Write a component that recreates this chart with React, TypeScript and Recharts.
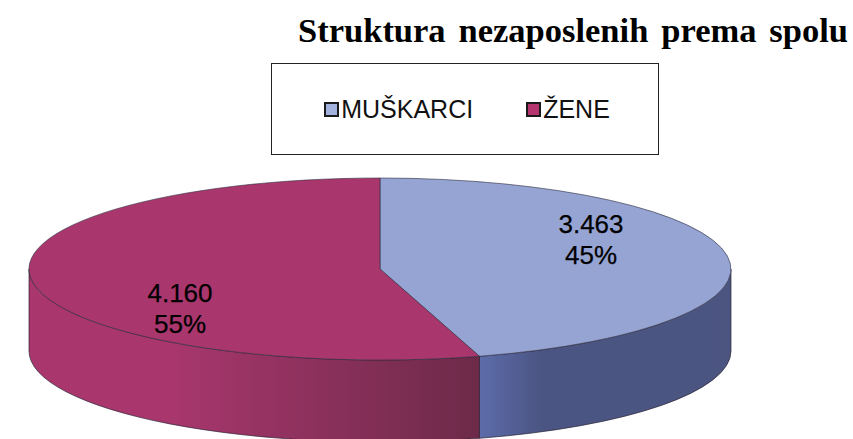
import React from 'react';
import { PieChart, Pie, Cell, Legend } from 'recharts';

const categories = ['MUŠKARCI', 'ŽENE'];
const counts = [3463, 4160];
const TOP_COLORS = ['#96a4d3', '#a9376e'];
const LEGEND_COLORS = ['#a3b2dc', '#b5356f'];

const CX = 380;
const CY = 269;
const RX = 351;
const RY = 91;
const DEPTH = 82;
const RAD = Math.PI / 180;

// label offsets from the centre of the pie, same order as the slices
const LABEL_POS = [{ dx: 211, dy: -28 }, { dx: -200, dy: 41 }];

const chartData = categories.map((name, i) => ({ name, value: counts[i] }));

const pt = (a: number, dy = 0) => `${CX + RX * Math.cos(a * RAD)} ${CY + dy - RY * Math.sin(a * RAD)}`;

// squashed sector with its side wall, recharts gives us the angles
function Slice3D(props: any) {
    const { startAngle, endAngle, index, fill } = props;
    const large = Math.abs(startAngle - endAngle) > 180 ? 1 : 0;
    const wallFrom = Math.min(startAngle, 0);
    const wallTo = Math.max(endAngle, -180);
    const top = `M ${CX} ${CY} L ${pt(startAngle)} A ${RX} ${RY} 0 ${large} 1 ${pt(endAngle)} Z`;
    const wall = `M ${pt(wallFrom)} A ${RX} ${RY} 0 0 1 ${pt(wallTo)} L ${pt(wallTo, DEPTH)} A ${RX} ${RY} 0 0 0 ${pt(wallFrom, DEPTH)} Z`;
    return (
        <g>
            {wallFrom > wallTo && <path d={wall} fill={`url(#wall-${index})`} stroke="#2b2436" strokeWidth={0.7} />}
            <path d={top} fill={fill} stroke="#2b2b3c" strokeWidth={0.6} />
        </g>
    );
}

function renderLabel(props: any) {
    const { index, value, percent } = props;
    const x = CX + LABEL_POS[index].dx;
    const y = CY + LABEL_POS[index].dy;
    const txt = String(value).replace(/(\d)(\d{3})$/, '$1.$2');
    return (
        <text x={x} textAnchor="middle" fontFamily="Liberation Sans" fontSize={26} fill="#000" stroke="#000" strokeWidth={0.25}>
            <tspan x={x} y={y - 8}>{txt}</tspan>
            <tspan x={x} y={y + 23}>{`${Math.round(percent * 100)}%`}</tspan>
        </text>
    );
}

function LegendBox() {
    return (
        <div style={{
            width: 382, height: 90, paddingLeft: 4, border: '1px solid #222', background: '#fff',
            display: 'flex', alignItems: 'center', justifyContent: 'center', gap: 53,
            fontFamily: 'Liberation Sans', fontSize: 25, color: '#111',
        }}>
            {categories.map((name, i) => (
                <div key={name} style={{ display: 'flex', alignItems: 'center', gap: 2 }}>
                    <span style={{ width: 11, height: 11, border: '2px solid #1a1a1a', background: LEGEND_COLORS[i], display: 'inline-block' }} />
                    {name}
                </div>
            ))}
        </div>
    );
}

export default function App() {
    return (
        <div style={{ width: 853, height: 439, position: 'relative', overflow: 'hidden' }}>
            <style>{'body{margin:0;background:#fff}'}</style>
            <PieChart width={853} height={439} margin={{ top: 0, right: 0, bottom: 0, left: 0 }}>
                <defs>
                    <linearGradient id="wall-0" gradientUnits="userSpaceOnUse" x1={478} y1={0} x2={732} y2={0}>
                        <stop offset="0" stopColor="#5d6cab" />
                        <stop offset="0.25" stopColor="#4b5583" />
                        <stop offset="1" stopColor="#4b5580" />
                    </linearGradient>
                    <linearGradient id="wall-1" gradientUnits="userSpaceOnUse" x1={30} y1={0} x2={478} y2={0}>
                        <stop offset="0" stopColor="#a9376e" />
                        <stop offset="0.3" stopColor="#a9376e" />
                        <stop offset="1" stopColor="#6d2a49" />
                    </linearGradient>
                </defs>
                <text x={848} y={42} textAnchor="end" fontFamily="Liberation Serif" fontWeight="bold" fontSize={34.5} wordSpacing={4.3} fill="#000">
                    Struktura nezaposlenih prema spolu
                </text>
                <Legend content={<LegendBox />} layout="horizontal" verticalAlign="top" wrapperStyle={{ left: 271, top: 63, width: 388, height: 92 }} />
                <Pie
                    data={chartData}
                    dataKey="value"
                    nameKey="name"
                    cx={CX}
                    cy={CY}
                    innerRadius={0}
                    outerRadius={RX}
                    startAngle={90}
                    endAngle={-270}
                    paddingAngle={0}
                    shape={Slice3D}
                    label={renderLabel}
                    labelLine={false}
                    isAnimationActive={false}
                >
                    {chartData.map((entry, i) => (
                        <Cell key={entry.name} fill={TOP_COLORS[i]} />
                    ))}
                </Pie>
            </PieChart>
        </div>
    );
}
